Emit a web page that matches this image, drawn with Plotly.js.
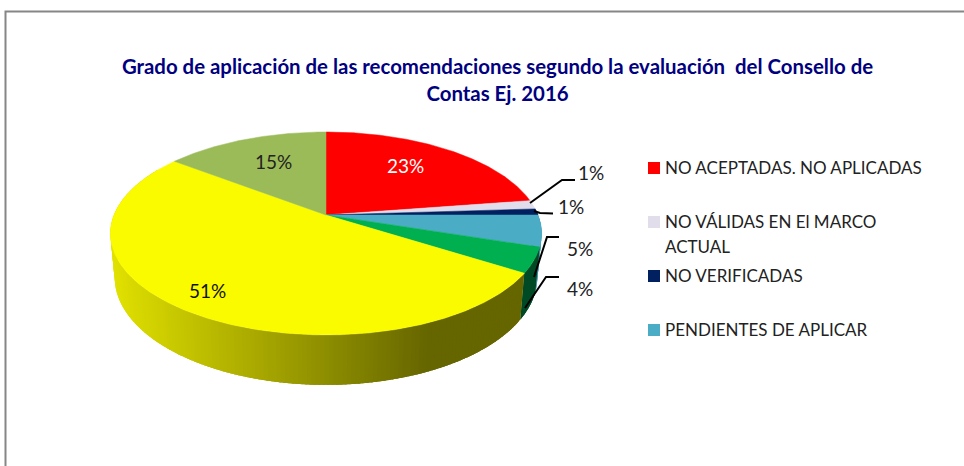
<!DOCTYPE html>
<html>
<head>
<meta charset="utf-8">
<script src="https://cdn.plot.ly/plotly-3.0.1.min.js"></script>
<style>html,body{margin:0;padding:0;background:#fff;overflow:hidden}#chart{width:964px;height:466px}</style>
</head>
<body>
<div id="chart"></div>
<script>
// ---- data ----
// The reference legend is cut off after four entries, so the last three slices have no readable name.
const categories = ["NO ACEPTADAS. NO APLICADAS", "NO VÁLIDAS EN El MARCO", "NO VERIFICADAS", "PENDIENTES DE APLICAR", "", "", ""];
const values = [22.6, 1.4, 1, 5, 4, 51.4, 14.6];
const sliceColors = ["#FF0000", "#E1DDEB", "#002060", "#4BACC6", "#00B050", "#FBFB00", "#9BBB59"];
const wallColors = [[90,0,0], [80,78,84], [0,12,40], [70,150,175], [0,74,38], [255,255,0], [70,85,40]];
const legendCount = 4;
const titleText = "Grado de aplicación de las recomendaciones segundo la evaluación  del Consello de<br>Contas Ej. 2016";

// ---- geometry of the tilted pie (axes are in page pixels) ----
const APEX = {x: 326, y: 215}, K = 0.182, A = 98.1, B = 212;
const rim = d => {
  const t = d * Math.PI / 180, u = Math.sin(t), v = Math.cos(t), w = 1 + K * v;
  return {x: APEX.x + B * u / w, y: APEX.y - A * v / w};
};
const lower = p => ({x: APEX.x + (p.x - APEX.x) * 0.98, y: p.y + 44 + (p.y - 236) * 0.06});
const font = "Lato, Open Sans, sans-serif";

const traces = [];
let cum = 0;
const bounds = values.map(v => { const s = cum; cum += v; return [s * 3.6, cum * 3.6]; });

// side wall, built from overlapping thin strips so the shading follows x without seams
bounds.forEach(([a, b], i) => {
  const from = Math.max(a, 86), to = Math.min(b, 300);
  if (to <= from) return;
  const n = Math.ceil((to - from) / 1.0);
  for (let s = 0; s < n; s++) {
    const a0 = from + (to - from) * s / n, a1 = Math.min(to, from + (to - from) * (s + 2.5) / n);
    const p = rim(a0);
    const xs = [], ys = [];
    const steps = 3;
    for (let k = 0; k <= steps; k++) { const r = rim(a0 + (a1 - a0) * k / steps); xs.push(r.x); ys.push(r.y); }
    for (let k = steps; k >= 0; k--) { const r = lower(rim(a0 + (a1 - a0) * k / steps)); xs.push(r.x); ys.push(r.y); }
    let f = 1;
    if (i === 5) f = Math.max(0.40, 0.88 - (p.x - 113) / 317 * 0.48);
    const c = `rgb(${wallColors[i].map(ch => Math.round(ch * f)).join(",")})`;
    traces.push({type: "scatter", mode: "none", x: xs, y: ys,
      fill: "toself", fillcolor: c, hoverinfo: "skip", showlegend: false});
  }
});

// top surface
bounds.forEach(([a, b], i) => {
  const xs = [APEX.x], ys = [APEX.y];
  const n = Math.ceil((b - a) / 0.5);
  for (let s = 0; s <= n; s++) { const p = rim(a + (b - a) * s / n); xs.push(p.x); ys.push(p.y); }
  xs.push(APEX.x); ys.push(APEX.y);
  traces.push({type: "scatter", mode: "lines", x: xs, y: ys, fill: "toself", fillcolor: sliceColors[i],
    line: {color: sliceColors[i], width: 0.5}, name: categories[i], hoverinfo: "skip", showlegend: false});
});

// legend swatches (only the first entries fit in the original box)
const legendY = [168, 222, 276, 330];
traces.push({type: "scatter", mode: "markers", x: legendY.map(() => 654), y: legendY,
  marker: {symbol: "square", size: 12, color: sliceColors.slice(0, legendCount)}, hoverinfo: "skip", showlegend: false});

// percentage labels
const labelPos = [[405,165,"#fff"], [591,172,"#222"], [571,206,"#222"], [580,248,"#222"], [580,288,"#222"], [207,290,"#111"], [273,161,"#222"]];
const annotations = values.map((v, i) => ({
  xref: "x", yref: "y", x: labelPos[i][0], y: labelPos[i][1], text: Math.round(v) + "%", showarrow: false,
  font: {family: font, size: 19, color: labelPos[i][2]}, xanchor: "center", yanchor: "middle"}));

// legend texts
const legendText = categories.slice(0, legendCount).map((t, i) => [t, legendY[i]]);
legendText.push(["ACTUAL", 247]);
legendText.forEach(([t, y]) => annotations.push({
  xref: "x", yref: "y", x: 663, y: y - 1, text: t, showarrow: false, align: "left",
  font: {family: font, size: 17, color: "#222"}, xanchor: "left", yanchor: "middle"}));

// leader lines and frame
const leaders = ["M530,203L562,180L575,180", "M534,211L540,213L553,213.5", "M534,277L547,237L559,237", "M525,308L546,277L559,277"];
const shapes = leaders.map(p => ({type: "path", xref: "x", yref: "y", path: p, line: {color: "#000", width: 2}}));
shapes.push({type: "path", xref: "x", yref: "y", path: "M5.5,466L5.5,11.5L964,11.5", line: {color: "#868686", width: 2}});

Plotly.newPlot("chart", traces, {
  width: 964, height: 466, margin: {l: 0, r: 0, t: 0, b: 0},
  paper_bgcolor: "#fff", plot_bgcolor: "#fff", showlegend: false,
  xaxis: {range: [0, 964], visible: false, fixedrange: true},
  yaxis: {range: [466, 0], visible: false, fixedrange: true},
  title: {text: titleText, x: 497.5 / 964, xanchor: "center", y: 1 - 74 / 466, yanchor: "top",
    font: {family: font, size: 20.4, color: "#000080", weight: 700}},
  annotations, shapes
}, {displayModeBar: false, staticPlot: true});
</script>
</body>
</html>
